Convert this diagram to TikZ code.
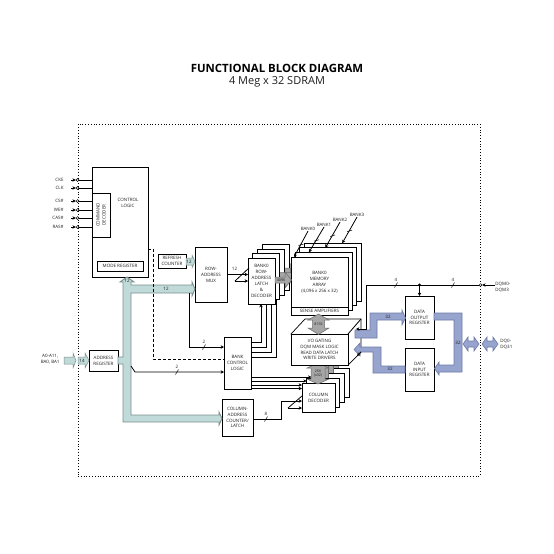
\documentclass[tikz,border=0pt]{standalone}
\usepackage{fontspec}
\setmainfont{Open Sans}
\usetikzlibrary{arrows.meta}
\definecolor{cteal}{HTML}{BFDAD8}
\definecolor{ctealdk}{HTML}{7C8F8E}
\definecolor{cblue}{HTML}{97A4CE}
\definecolor{cbluedk}{HTML}{6F7CA8}
\definecolor{cgrey}{HTML}{A6A6A6}
\definecolor{cgreydk}{HTML}{6B6B6B}
\definecolor{cink}{HTML}{1E1E1E}
\tikzset{
  every picture/.style={line width=0.9pt, x=1pt, y=-1pt},
  tiny/.style={font=\fontsize{4.5}{5.9}\selectfont, text=cink, align=center, inner sep=0pt},
  blk/.style={draw=black, fill=white, tiny, outer sep=0pt},
  conn/.style={draw=black, line width=0.8pt},
  arr/.style={conn, -{Stealth[length=3.4pt, width=3.4pt]}},
  pinc/.style={circle, draw=black, fill=white, line width=0.5pt, minimum size=2.8pt, inner sep=0pt},
  busteal/.style={fill=cteal, draw=ctealdk, line width=0.9pt, line join=miter},
  busblue/.style={fill=cblue, draw=cbluedk, line width=0.6pt},
  busgrey/.style={fill=cgrey, draw=cgreydk, line width=0.5pt},
}
% small slash on a line, with the bus width above it
\newcommand{\busmark}[4]{
  \draw[line width=0.5pt] (#2-1.5,#3+2.5) -- (#2+1.5,#3-2.5);
  \node[tiny] (#1) at (#2,#3-5) {#4};
}
\begin{document}
\begin{tikzpicture}
  \useasboundingbox (0,0) rectangle (554,554);
  \node[font=\fontsize{11.4}{13}\selectfont\bfseries, text=black] (title) at (277,68) {FUNCTIONAL BLOCK DIAGRAM};
  \node[font=\fontsize{11}{13}\selectfont, text=cink] (subtitle) at (277,81.5) {4 Meg x 32 SDRAM};
  \node[draw=black, dotted, line width=0.8pt, minimum width=402pt, minimum height=352pt, outer sep=0pt] (frame) at (279,300) {};

  % control block
  \node[blk, minimum width=56pt, minimum height=110pt] (ctrl) at (120,222) {};
  \node[tiny] (ctrltxt) at (128,203) {CONTROL\\LOGIC};
  \node[blk, rotate=90, minimum width=44pt, minimum height=18pt] (cmd) at (101,215) {COMMAND\\DECODER};
  \node[blk, minimum width=46pt, minimum height=10pt] (mode) at (120,266) {MODE REGISTER};
  \foreach \lab/\yy/\nm/\ee in {CKE/180/cke/ctrl, CLK/188/clk/ctrl, CS\#/201/cs/cmd, WE\#/210/we/cmd, CAS\#/218/cas/cmd, RAS\#/227/ras/cmd} {
    \node[tiny, anchor=east] (\nm lab) at (64,\yy) {\lab};
    \node[pinc] (\nm pin) at (77.5,\yy) {};
    \draw[arr] (71,\yy) -- (\nm pin.west);
    \draw[conn] (\nm pin.east) -- (92,\yy);
  }

  \node[blk, minimum width=28pt, minimum height=14pt] (refresh) at (172,261) {REFRESH\\COUNTER};
  \node[blk, minimum width=32pt, minimum height=55pt] (mux) at (211,274.5) {ROW-\\ADDRESS\\MUX};
  \node[blk, minimum width=29pt, minimum height=21pt] (addr) at (103.5,360.5) {ADDRESS\\REGISTER};
  \node[blk, minimum width=27pt, minimum height=52pt] (bank) at (237.5,363) {BANK\\CONTROL\\LOGIC};
  \node[blk, minimum width=31pt, minimum height=37pt] (colcnt) at (237.5,417.5) {COLUMN-\\ADDRESS\\COUNTER/\\LATCH};

  % stacks of the four banks, back to front
  \foreach \i in {3,2,1} {
    \draw[busgrey] ({275+4.7*\i},{277-4.4*\i}) -- ({286+4.7*\i},{277-4.4*\i}) -- ({286+4.7*\i},{273-4.4*\i}) -- ({292+4.7*\i},{280-4.4*\i}) -- ({286+4.7*\i},{287-4.4*\i}) -- ({286+4.7*\i},{283-4.4*\i}) -- ({275+4.7*\i},{283-4.4*\i}) -- cycle;
    \node[blk, minimum width=27pt, minimum height=46pt] (latch\i) at ({261.5+4.7*\i},{281-4.4*\i}) {};
    \node[blk, minimum width=57pt, minimum height=58pt] (mem\i) at ({319.5+4.4*\i},{286-4.6*\i}) {};
  }
  \node[blk, minimum width=27pt, minimum height=46pt] (latch0) at (261.5,281) {BANK0\\ROW-\\ADDRESS\\LATCH\\\&\\DECODER};
  \node[blk, minimum width=57pt, minimum height=50pt] (mem0) at (319.5,282) {BANK0\\MEMORY\\ARRAY\\(4,096 x 256 x 32)};
  \node[blk, minimum width=57pt, minimum height=8pt] (sense) at (319.5,311) {SENSE AMPLIFIERS};
  \draw[busgrey] (275,277) -- (285,277) -- (285,272) -- (291.5,280) -- (285,288) -- (285,283) -- (275,283) -- cycle;
  \node[tiny, font=\fontsize{3.6}{4}\selectfont] (rowbits) at (281,280) {4096};

  % column stack
  \foreach \i in {3,2,1} {
    \draw[busgrey] ({313+4.7*\i},365) -- ({324+4.7*\i},365) -- ({324+4.7*\i},{383-4.7*\i}) -- ({313+4.7*\i},{383-4.7*\i}) -- cycle;
    \node[blk, minimum width=33pt, minimum height=29pt] (col\i) at ({318.5+4.7*\i},{397.5-4.7*\i}) {};
  }
  \node[blk, minimum width=33pt, minimum height=29pt] (col0) at (318.5,397.5) {COLUMN\\DECODER};
  \draw[busgrey] (318,363) -- (329,368) -- (325,368) -- (325,379) -- (329,379) -- (318,384) -- (307,379) -- (311,379) -- (311,368) -- (307,368) -- cycle;
  \node[tiny, font=\fontsize{3.6}{4.4}\selectfont] (colbits) at (318,373.5) {256\\(x32)};

  % i/o block
  \draw[fill=white, line width=0.7pt] (291,334) -- (305,319) -- (361,319) -- (361,352) -- (348,365) -- cycle;
  \node[blk, minimum width=57pt, minimum height=31pt] (io) at (319.5,349.5) {I/O GATING\\DQM MASK LOGIC\\READ DATA LATCH\\WRITE DRIVERS};
  \draw[conn] (io.north east) -- (361,319);
  \draw[busgrey] (318.5,314) -- (329,320) -- (324.5,320) -- (324.5,328) -- (329,328) -- (318.5,334.5) -- (308,328) -- (312.5,328) -- (312.5,320) -- (308,320) -- cycle;
  \node[tiny, font=\fontsize{3.6}{4}\selectfont] (sabits) at (318.5,324) {8192};

  \node[blk, minimum width=29pt, minimum height=43pt] (dout) at (419.5,317.5) {DATA\\OUTPUT\\REGISTER};
  \node[blk, minimum width=29pt, minimum height=43pt] (din) at (419.5,369.5) {DATA\\INPUT\\REGISTER};

  % address buses
  \draw[busteal] (127,277) -- (134,282) -- (131,282) -- (131,285) -- (192,285) -- (192,282) -- (195,289) -- (192,296) -- (192,293) -- (131,293) -- (131,415) -- (219,415) -- (219,412) -- (222,418.5) -- (219,425) -- (219,422) -- (123,422) -- (123,364) -- (118,364) -- (118,357) -- (123,357) -- (123,282) -- (120,282) -- cycle;
  \draw[busteal, line width=0.5pt] (186,258) -- (192,258) -- (192,255) -- (195,261.5) -- (192,268) -- (192,265) -- (186,265) -- cycle;
  \draw[busteal, line width=0.5pt] (64,357) -- (73,357) -- (73,353) -- (76,360.5) -- (73,368) -- (73,364) -- (64,364) -- cycle;
  \draw[busteal, line width=0.5pt] (78,357) -- (85,357) -- (85,353) -- (89,360.5) -- (85,368) -- (85,364) -- (78,364) -- cycle;
  \node[tiny] (buscnt) at (127,281) {12};
  \node[tiny] (busmux) at (166,288.5) {12};
  \node[tiny] (busref) at (189,261.5) {12};
  \node[tiny] (busin) at (82,360.5) {14};
  \node[tiny, anchor=east] (addrlab) at (60,359.5) {A0-A11,\\BA0, BA1};

  % thin lines
  \draw[conn, densely dashed] (ctrl.east |- 0,249) -- (153.5,249) -- (153.5,359) -- (bank.west |- 0,359);
  \draw[arr] (189,293) -- (189,347) -- (bank.west |- 0,347);
  \draw[arr] (131,366) -- (135,372) -- (bank.west |- 0,372);
  \busmark{bw1}{204}{347}{2}
  \busmark{bw2}{177}{372}{2}
  \draw[arr] (mux.east) -- (latch0.west |- mux.east);
  \coordinate (fan1) at (235,281);
  \draw[arr] (fan1) -- (latch0.west |- fan1);
  \draw[conn] (fan1) -- (249,268);
  \node[tiny] (bw3) at (234.5,269) {12};
  \foreach \yy/\xx/\ey in {347/266/304, 352/271/304, 357/276/299} {
    \draw[conn] (bank.east |- 0,\yy) -| (\xx,\ey);
  }
  \draw[arr] (bank.east |- 0,342) -| (261,304);
  \draw[arr] (bank.east |- 0,377) -- (col2.west |- 0,377);
  \draw[arr] (bank.east |- 0,381) -- (col1.west |- 0,381);
  \draw[arr] (bank.east |- 0,385) -- (col0.west |- 0,385);
  \draw[arr] (bank.east |- 0,388.5) -- (col0.west |- 0,388.5);
  \coordinate (coljog) at (281,401);
  \draw[arr] (colcnt.east |- 0,419) -| (coljog) -- (col0.west |- coljog);
  \coordinate (fan2) at (288,408);
  \draw[arr] (fan2) -- (col0.west |- fan2);
  \draw[conn] (fan2) -- (302,396);
  \busmark{bw4}{266}{419}{8}

  % bank selects
  \foreach \i/\nm/\lx/\ly/\sh in {0/BANK0/308/229/3, 1/BANK1/324/225/13.5, 2/BANK2/340/220/25.5, 3/BANK3/357/215/38} {
    \node[tiny] (bank\i lab) at (\lx,\ly) {\nm};
    \draw[arr] (bank\i lab.south) -- coordinate[pos=.5] (bk\i) ([xshift=\sh pt]mem\i.north west);
    \draw[line width=0.5pt] ([shift={(-2.5,1.5)}]bk\i) -- ([shift={(2.5,0)}]bk\i);
  }

  % data buses
  \draw[busblue] (355,330) -- (370,330) -- (370,313) -- (402,313) -- (402,310) -- (405.5,318) -- (402,325) -- (402,320) -- (377,320) -- (377,338) -- (355,338) -- cycle;
  \draw[busblue] (405,366) -- (381,366) -- (381,347) -- (360,347) -- (360,343) -- (354,349.5) -- (360,356) -- (360,352) -- (373,352) -- (373,373) -- (405,373) -- cycle;
  \draw[busblue] (434,313) -- (462,313) -- (462,372) -- (439,372) -- (439,375) -- (434.5,368.5) -- (439,362) -- (439,365) -- (454,365) -- (454,320) -- (434,320) -- cycle;
  \draw[busblue] (463,344) -- (468,337) -- (468,341) -- (474,341) -- (474,337) -- (479,344) -- (474,351) -- (474,347) -- (468,347) -- (468,351) -- cycle;
  \draw[busblue] (482,344) -- (487,337) -- (487,341) -- (493,341) -- (493,337) -- (498,344) -- (493,351) -- (493,347) -- (487,347) -- (487,351) -- cycle;
  \node[tiny] (bw5) at (388,316.5) {32};
  \node[tiny] (bw6) at (390,368.5) {32};
  \node[tiny] (bw7) at (458,342.5) {32};
  \node[tiny, align=left, anchor=west] (dqlab) at (500,344) {DQ0-\\DQ31};

  % data mask
  \node[pinc] (dqmpin) at (480.5,285) {};
  \node[tiny, align=left, anchor=west] (dqmlab) at (495,287.5) {DQM0-\\DQM3};
  \draw[arr] (dqmlab.west |- dqmpin) -- (dqmpin.east);
  \coordinate (dqmjoin) at (dout.north |- dqmpin);
  \draw[arr] (dqmpin.west) -- (366,285) -- (366,329) -- (356,329);
  \fill (dqmjoin) circle (1.7);
  \draw[arr] (dqmjoin) -- (dout.north);
  \draw[arr] (361,352) -- (357,356);
  \busmark{bw8}{396}{285}{4}
  \busmark{bw9}{453}{285}{4}
\end{tikzpicture}
\end{document}
